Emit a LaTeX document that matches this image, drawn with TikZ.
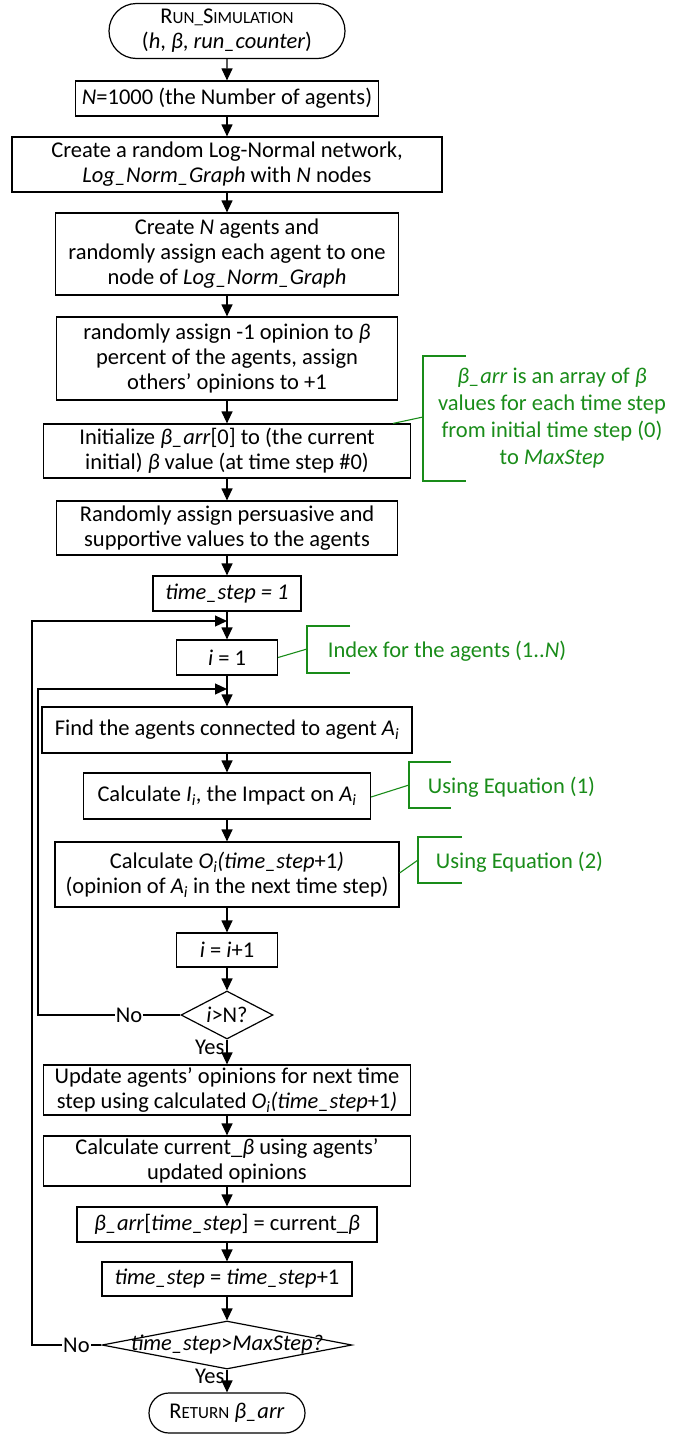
\documentclass[tikz,border=0pt]{standalone}
\usepackage{fontspec}
\setmainfont{Carlito}
\usetikzlibrary{shapes.geometric,shapes.misc,arrows.meta,calc}
\definecolor{notegreen}{RGB}{25,140,25}
\newcommand{\fsc}[1]{{\fontsize{17}{17}\selectfont #1}}

\begin{document}
\begin{tikzpicture}[x=1pt,y=-1pt,line width=1.2pt,
    font=\fontsize{22.5}{25}\selectfont,
    box/.style={draw,rectangle,align=center,inner sep=2pt},
    term/.style={draw,rounded rectangle,align=center,inner sep=2pt},
    decision/.style={draw,diamond,inner sep=0pt},
    arr/.style={-{Triangle[length=12pt,width=11pt]}},
    note/.style={notegreen,align=center,font=\fontsize{22.5}{27}\selectfont},
    brk/.style={notegreen,line width=1.1pt},
    nolbl/.style={fill=white,inner sep=1pt,pos=.36},
    yeslbl/.style={anchor=east,inner sep=2pt,pos=.3}]
  \useasboundingbox (0,0) rectangle (686,1435);

  % main column
  \node[term,minimum width=240pt,minimum height=55pt] (start) at (227,31)
    {R\fsc{UN\_}S\fsc{IMULATION}\\(\textit{h}, \textit{β}, \textit{run\_counter})};
  \node[box,minimum width=303pt,minimum height=35pt] (nagents) at (227,98.5)
    {\textit{N}=1000 (the Number of agents)};
  \node[box,minimum width=430pt,minimum height=55pt] (graph) at (227,164.5)
    {Create a random Log-Normal network,\\\textit{Log\_Norm\_Graph} with \textit{N} nodes};
  \node[box,minimum width=343pt,minimum height=82pt] (agents) at (227,254)
    {Create \textit{N} agents and\\randomly assign each agent to one\\node of \textit{Log\_Norm\_Graph}};
  \node[box,minimum width=341pt,minimum height=83pt] (opin) at (227,358.5)
    {randomly assign -1 opinion to \textit{β}\\percent of the agents, assign\\others' opinions to +1};
  \node[box,minimum width=367pt,minimum height=54pt] (init) at (227,451)
    {Initialize \textit{β\_arr}[0] to (the current\\initial) \textit{β} value (at time step \#0)};
  \node[box,minimum width=341pt,minimum height=54pt] (persu) at (227,528)
    {Randomly assign persuasive and\\supportive values to the agents};
  \node[box,minimum width=148pt,minimum height=35pt] (tstep) at (227,593.5)
    {\textit{time\_step = 1}};
  \coordinate (join1) at (227,621);
  \node[box,minimum width=101pt,minimum height=35pt] (ione) at (227,657.5)
    {\textit{i} = 1};
  \coordinate (join2) at (227,689);
  \node[box,minimum width=370pt,minimum height=46pt] (find) at (227,730)
    {Find the agents connected to agent \textit{A\textsubscript{i}}};
  \node[box,minimum width=287pt,minimum height=46pt] (impact) at (227,796)
    {Calculate \textit{I\textsubscript{i}}, the Impact on \textit{A\textsubscript{i}}};
  \node[box,minimum width=344pt,minimum height=65pt] (onext) at (227,874.5)
    {Calculate \textit{O\textsubscript{i}(time\_step}+1\textit{)}\\(opinion of \textit{A\textsubscript{i}} in the next time step)};
  \node[box,minimum width=101pt,minimum height=34pt] (iinc) at (227,950)
    {\textit{i} = \textit{i}+1};
  \node[decision,minimum width=92pt,minimum height=48pt] (chkn) at (227,1015)
    {\makebox[0pt]{\textit{i}>N?}};
  \node[box,minimum width=367pt,minimum height=50pt] (update) at (227,1090)
    {Update agents’ opinions for next time\\step using calculated \textit{O\textsubscript{i}(time\_step}+1\textit{)}};
  \node[box,minimum width=367pt,minimum height=50pt] (curr) at (227,1161)
    {Calculate current\_\textit{β} using agents’\\updated opinions};
  \node[box,minimum width=300pt,minimum height=35pt] (barr) at (227,1224.5)
    {\textit{β\_arr}[\textit{time\_step}] = current\_\textit{β}};
  \node[box,minimum width=250pt,minimum height=34pt] (tinc) at (227,1279)
    {\textit{time\_step} = \textit{time\_step}+1};
  \node[decision,minimum width=250pt,minimum height=48pt] (chkmax) at (227,1345)
    {\makebox[0pt]{\textit{time\_step}>\textit{MaxStep?}}};
  \node[term,minimum width=160pt,minimum height=40pt] (ret) at (227,1413)
    {R\fsc{ETURN} \textit{β\_arr}};

  \draw[arr] (start) -- (nagents);
  \draw[arr] (nagents) -- (graph);
  \draw[arr] (graph) -- (agents);
  \draw[arr] (agents) -- (opin);
  \draw[arr] (opin) -- (init);
  \draw[arr] (init) -- (persu);
  \draw[arr] (persu) -- (tstep);
  \draw[arr] (tstep) -- (ione);
  \draw[arr] (ione) -- (find);
  \draw[arr] (find) -- (impact);
  \draw[arr] (impact) -- (onext);
  \draw[arr] (onext) -- (iinc);
  \draw[arr] (iinc) -- (chkn);
  \draw[arr] (chkn) -- node[yeslbl] {Yes} (update);
  \draw[arr] (update) -- (curr);
  \draw[arr] (curr) -- (barr);
  \draw[arr] (barr) -- (tinc);
  \draw[arr] (tinc) -- (chkmax);
  \draw[arr] (chkmax) -- node[yeslbl] {Yes} (ret);

  % loops back
  \coordinate (back2) at (38,1015);
  \coordinate (back1) at (32,1345);
  \draw[arr] (chkn.west) -- node[nolbl] {No} (back2) |- (join2);
  \draw[arr] (chkmax.west) -- node[nolbl] {No} (back1) |- (join1);

  % notes
  \node[note] (barrnote) at (552,418)
    {\textit{β\_arr} is an array of \textit{β}\\values for each time step\\from initial time step (0)\\to \textit{MaxStep}};
  \draw[brk] (466,356) -| (423,481) -- (466,481);
  \draw[brk] ($(init.north east)+(-18,0)$) -- (423,417);

  \node[note,anchor=west] (idxnote) at (324,651) {Index for the agents (1..\textit{N})};
  \draw[brk] (350,626) -| (307,673) -- (350,673);
  \draw[brk] (ione.east) -- (307,649);

  \node[note,anchor=west] (eqone) at (424,787) {Using Equation (1)};
  \draw[brk] (451,762) -| (409,808) -- (451,808);
  \draw[brk] ($(impact.east)+(0,1)$) -- (409,785);

  \node[note,anchor=west] (eqtwo) at (432,862) {Using Equation (2)};
  \draw[brk] (462,837) -| (418,883) -- (462,883);
  \draw[brk] ($(onext.east)+(0,-1.5)$) -- (418,860);
\end{tikzpicture}
\end{document}
